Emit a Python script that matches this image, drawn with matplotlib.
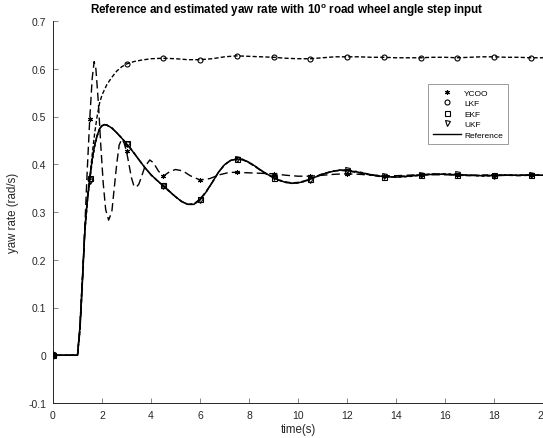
import numpy as np
import matplotlib
matplotlib.use("Agg")
import matplotlib.pyplot as plt

plt.rcParams["font.family"] = ["Liberation Sans", "DejaVu Sans"]
plt.rcParams["mathtext.fontset"] = "custom"
plt.rcParams["mathtext.rm"] = "Liberation Sans"
plt.rcParams["mathtext.bf"] = "Liberation Sans:bold"

# ---------------- data ----------------
# reference yaw rate
t_ref = [0, 0.5, 1.0, 1.1, 1.2, 1.3, 1.4, 1.5, 1.6, 1.7, 1.8, 1.9, 2.0, 2.1, 2.2,
         2.4, 2.6, 2.8, 3.0, 3.25, 3.5, 3.75, 4.0, 4.25, 4.5, 4.75, 5.0, 5.25,
         5.5, 5.75, 6.0, 6.25, 6.5, 6.75, 7.0, 7.25, 7.5, 7.75, 8.0, 8.25, 8.5,
         8.75, 9.0, 9.25, 9.5, 9.75, 10.0, 10.25, 10.5, 10.75, 11.0, 11.25, 11.5,
         11.75, 12.0, 12.5, 13.0, 13.5, 14.0, 14.5, 15.0, 15.5, 16.0, 16.5, 17.0,
         17.5, 18.0, 18.5, 19.0, 19.5, 20.0]
y_ref = [0, 0, 0.0, 0.06, 0.16, 0.26, 0.325, 0.37, 0.41, 0.44, 0.46, 0.474, 0.481,
         0.483, 0.482, 0.476, 0.466, 0.455, 0.443, 0.427, 0.41, 0.393, 0.378, 0.366,
         0.355, 0.343, 0.332, 0.322, 0.316, 0.316, 0.326, 0.342, 0.362, 0.383,
         0.399, 0.408, 0.411, 0.410, 0.404, 0.396, 0.387, 0.379, 0.372, 0.366,
         0.362, 0.360, 0.361, 0.364, 0.369, 0.374, 0.379, 0.383, 0.386, 0.388,
         0.387, 0.383, 0.378, 0.374, 0.373, 0.375, 0.377, 0.379, 0.379, 0.378,
         0.377, 0.376, 0.376, 0.377, 0.377, 0.377, 0.377]

# EKF estimate
t_ekf = t_ref
y_ekf = [0, 0, 0.0, 0.06, 0.16, 0.265, 0.33, 0.372, 0.41, 0.44, 0.46, 0.474, 0.481,
         0.483, 0.482, 0.476, 0.466, 0.455, 0.444, 0.428, 0.41, 0.393, 0.378, 0.366,
         0.356, 0.344, 0.332, 0.322, 0.316, 0.317, 0.327, 0.343, 0.362, 0.383,
         0.399, 0.408, 0.411, 0.409, 0.403, 0.395, 0.386, 0.378, 0.372, 0.366,
         0.363, 0.361, 0.362, 0.365, 0.369, 0.375, 0.380, 0.383, 0.386, 0.387,
         0.386, 0.382, 0.377, 0.373, 0.374, 0.376, 0.378, 0.380, 0.379, 0.377,
         0.376, 0.377, 0.378, 0.377, 0.376, 0.377, 0.377]

# UKF estimate
t_ukf = t_ref
y_ukf = [0, 0, 0.0, 0.06, 0.16, 0.26, 0.32, 0.365, 0.405, 0.437, 0.458, 0.473, 0.480,
         0.483, 0.482, 0.476, 0.466, 0.455, 0.442, 0.427, 0.41, 0.393, 0.378, 0.366,
         0.354, 0.343, 0.332, 0.322, 0.316, 0.316, 0.325, 0.342, 0.362, 0.383,
         0.399, 0.408, 0.412, 0.410, 0.404, 0.396, 0.387, 0.379, 0.373, 0.367,
         0.362, 0.360, 0.361, 0.364, 0.368, 0.374, 0.379, 0.383, 0.386, 0.388,
         0.388, 0.384, 0.378, 0.375, 0.373, 0.374, 0.377, 0.379, 0.380, 0.379,
         0.377, 0.375, 0.376, 0.378, 0.377, 0.378, 0.377]

# YCOO estimate
t_ycoo = [0, 0.5, 1.0, 1.1, 1.2, 1.3, 1.4, 1.5, 1.6, 1.68, 1.75, 1.85, 1.95, 2.05,
          2.15, 2.27, 2.4, 2.5, 2.6, 2.7, 2.8, 2.9, 3.0, 3.1, 3.2, 3.3, 3.4, 3.5,
          3.6, 3.75, 3.95, 4.1, 4.3, 4.5, 4.75, 5.0, 5.3, 5.6, 6.0, 6.4, 6.8, 7.2,
          7.5, 8.0, 8.5, 9.0, 9.5, 10.0, 10.5, 11.0, 11.5, 12.0, 12.5, 13.0, 13.5,
          14.0, 14.5, 15.0, 15.5, 16.0, 16.5, 17.0, 17.5, 18.0, 18.5, 19.0, 19.5, 20.0]
y_ycoo = [0, 0, 0.0, 0.05, 0.15, 0.27, 0.39, 0.495, 0.58, 0.615, 0.60, 0.53, 0.44,
          0.36, 0.305, 0.283, 0.30, 0.35, 0.40, 0.44, 0.452, 0.445, 0.427, 0.40,
          0.372, 0.355, 0.352, 0.358, 0.372, 0.395, 0.409, 0.403, 0.386, 0.375,
          0.384, 0.389, 0.386, 0.376, 0.367, 0.370, 0.378, 0.383, 0.383, 0.382,
          0.381, 0.380, 0.377, 0.375, 0.375, 0.377, 0.379, 0.380, 0.379, 0.377,
          0.376, 0.376, 0.377, 0.378, 0.378, 0.378, 0.378, 0.377, 0.377, 0.377,
          0.377, 0.377, 0.377, 0.377]

# LKF estimate
t_lkf = [0, 0.5, 1.0, 1.1, 1.2, 1.3, 1.4, 1.5, 1.6, 1.7, 1.8, 1.9, 2.0, 2.2, 2.4,
         2.6, 2.8, 3.0, 3.3, 3.6, 4.0, 4.5, 5.0, 5.5, 6.0, 6.5, 7.0, 7.5, 8.0, 8.5,
         9.0, 9.5, 10.0, 10.5, 11.0, 11.5, 12.0, 12.5, 13.0, 13.5, 14.0, 14.5,
         15.0, 15.5, 16.0, 16.5, 17.0, 17.5, 18.0, 18.5, 19.0, 19.5, 20.0]
y_lkf = [0, 0, 0.0, 0.05, 0.15, 0.26, 0.32, 0.37, 0.42, 0.465, 0.50, 0.528, 0.545,
         0.567, 0.582, 0.595, 0.604, 0.610, 0.615, 0.618, 0.621, 0.622, 0.621,
         0.619, 0.619, 0.621, 0.625, 0.627, 0.626, 0.625, 0.624, 0.622, 0.621,
         0.621, 0.623, 0.625, 0.625, 0.625, 0.624, 0.624, 0.623, 0.623, 0.623,
         0.624, 0.624, 0.623, 0.624, 0.625, 0.625, 0.624, 0.624, 0.623, 0.623]

marker_times = [0, 1.5, 3.0, 4.5, 6.0, 7.5, 9.0, 10.5, 12.0, 13.5, 15.0, 16.5, 18.0, 19.5]

x_ticks = [0, 2, 4, 6, 8, 10, 12, 14, 16, 18, 20]
x_tick_labels = ["0", "2", "4", "6", "8", "10", "12", "14", "16", "18", "20"]
y_ticks = [-0.1, 0, 0.1, 0.2, 0.3, 0.4, 0.5, 0.6, 0.7]
y_tick_labels = ["-0.1", "0", "0.1", "0.2", "0.3", "0.4", "0.5", "0.6", "0.7"]

# ---------------- figure ----------------
W, H = 543, 439
fig = plt.figure(figsize=(W / 100, H / 100), dpi=100)
ax = fig.add_axes([53 / W, 35 / H, 490 / W, 382 / H])

ink = "black"


def markers_of(t, y):
    t = np.asarray(t, float)
    y = np.asarray(y, float)
    sel = np.isin(np.round(t, 3), np.round(marker_times, 3))
    return t[sel], y[sel]


asterisk = (6, 2, 0)
series = [
    ("YCOO", t_ycoo, y_ycoo, (0, (6, 3)), asterisk),
    ("LKF", t_lkf, y_lkf, (0, (3, 1.6)), "o"),
    ("EKF", t_ekf, y_ekf, (0, (4, 2)), "s"),
    ("UKF", t_ukf, y_ukf, (0, (2, 2)), "v"),
]

for name, t, y, ls, mk in series:
    ax.plot(t, y, color=ink, lw=1.0, linestyle=ls, zorder=2)

ax.plot(t_ref, y_ref, color=ink, lw=1.1, zorder=3)

handles = []
for name, t, y, ls, mk in series:
    mt, my = markers_of(t, y)
    h, = ax.plot(mt, my, linestyle="none", marker=mk, ms=3.6,
                 mfc="none", mec=ink, mew=0.8, label=name, zorder=4)
    handles.append(h)
href, = ax.plot([], [], color=ink, lw=1.0, label="Reference")
handles.append(href)

# the overlapping start markers at the origin
ax.plot([t_ref[0]], [y_ref[0]], linestyle="none", marker="o", ms=4.5,
        color=ink, zorder=5)

ax.set_xlim(0, 20)
ax.set_ylim(-0.1, 0.7)
ax.set_xticks(x_ticks)
ax.set_xticklabels(x_tick_labels)
ax.set_yticks(y_ticks)
ax.set_yticklabels(y_tick_labels)

for s in ("top", "right"):
    ax.spines[s].set_visible(False)
for s in ("left", "bottom"):
    ax.spines[s].set_color("0.15")
    ax.spines[s].set_linewidth(0.7)

ax.tick_params(direction="in", length=3.5, width=0.6, color="0.45",
               labelsize=7.5, labelcolor="0.15", pad=5)

ax.set_xlabel("time(s)", fontsize=8.3, color="0.15")
ax.xaxis.set_label_coords(0.5, -0.052)
ax.set_ylabel("yaw rate (rad/s)", fontsize=8.3, color="0.15")
ax.yaxis.set_label_coords(-0.07, 0.5)

ax.set_title(r"Reference and estimated yaw rate with 10$^{\mathbf{o}}$ road wheel angle step input",
             fontsize=8.4, fontweight="bold", color="black",
             x=(287 - 53) / 490, pad=6)

leg = ax.legend(handles=handles, loc="upper left",
                bbox_to_anchor=((428 - 53) / 490, (404 - 85) / 382),
                borderaxespad=0, fontsize=6.0, frameon=True, fancybox=False,
                edgecolor="0.55", framealpha=1, handlelength=3.4,
                handletextpad=0.35, labelspacing=0.32, borderpad=0.6)
leg.get_frame().set_linewidth(0.6)

fig.savefig("out.png", dpi=100)
